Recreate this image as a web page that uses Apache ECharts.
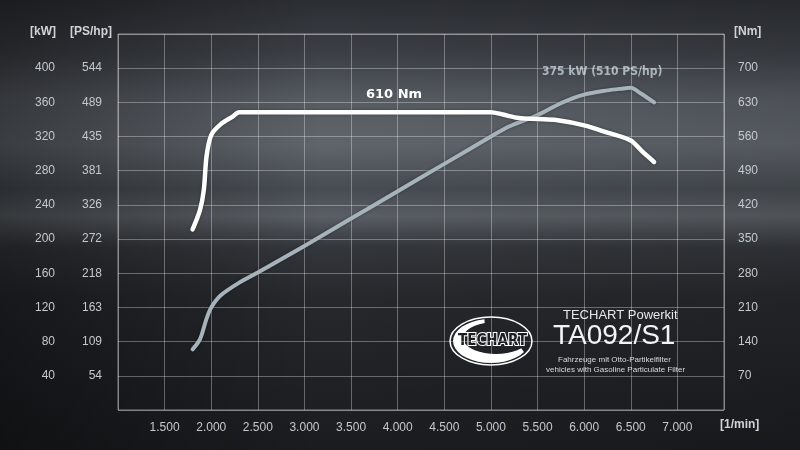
<!DOCTYPE html>
<html>
<head>
<meta charset="utf-8">
<script src="https://cdn.jsdelivr.net/npm/echarts@6/dist/echarts.min.js"></script>
<style>
  html, body { margin: 0; padding: 0; background: #222; }
  #chart { width: 800px; height: 450px; }
</style>
</head>
<body>
<div id="chart"></div>
<script>
// engine speed values (1/min)
const torqueRpm = [1800, 1880, 1920, 1950, 2000, 2100, 2230, 2300, 2500, 3000, 3500, 4000, 4500, 5000, 5130, 5300, 5500, 5700, 6000, 6250, 6500, 6620, 6750]
const torqueNm = [370, 410, 450, 520, 563, 585, 601, 610, 610, 610, 610, 610, 610, 610, 605, 598, 596, 594, 583, 568, 552, 530, 508]

const powerRpm = [1800, 1880, 1950, 2000, 2100, 2300, 2500, 3000, 3500, 4000, 4500, 5000, 5200, 5500, 5750, 6000, 6250, 6400, 6500, 6600, 6750]
const powerKw = [71, 83, 107, 120, 134, 149, 161, 192, 224, 256, 288, 320, 332, 345, 359, 369, 374, 376, 377, 371, 360]

// tick labels for the PS/hp column (kW ticks 40 .. 400)
const psTicks = ['54', '109', '163', '218', '272', '326', '381', '435', '489', '544']

const labelColor = '#c4c9ce'
const gridColor = 'rgba(255,255,255,0.32)'
const font = 'Liberation Sans'

const myChart = echarts.init(document.getElementById('chart'))

// logo crescent, drawn as a closed polygon
const crescent = []
for (let a = 100; a <= 330; a += 10) {
  const t = a * Math.PI / 180
  crescent.push([491 + 38 * Math.cos(t), 341 - 22 * Math.sin(t)])
}
for (let a = 320; a >= 110; a -= 10) {
  const t = a * Math.PI / 180
  crescent.push([496 + 33 * Math.cos(t), 338 - 16 * Math.sin(t)])
}

myChart.setOption({
  backgroundColor: '#26292d',
  animation: false,
  grid: {
    left: 118,
    right: 76,
    top: 34,
    bottom: 40,
    show: true,
    borderColor: 'rgba(255,255,255,0.45)',
    borderWidth: 1
  },
  graphic: [
    {
      type: 'rect', z: -20, silent: true,
      shape: { x: 0, y: 0, width: 800, height: 450 },
      style: {
        fill: new echarts.graphic.LinearGradient(0, 0, 0, 1, [
          { offset: 0, color: '#2b2e33' },
          { offset: 0.12, color: '#3c4046' },
          { offset: 0.22, color: '#575c63' },
          { offset: 0.32, color: '#60656c' },
          { offset: 0.42, color: '#474c52' },
          { offset: 0.48, color: '#5a5f65' },
          { offset: 0.55, color: '#33363b' },
          { offset: 0.66, color: '#26282c' },
          { offset: 0.82, color: '#202226' },
          { offset: 1, color: '#1b1c1f' }
        ])
      }
    },
    {
      type: 'rect', z: -19, silent: true,
      shape: { x: 0, y: 0, width: 800, height: 450 },
      style: {
        fill: new echarts.graphic.LinearGradient(0, 0, 1, 0, [
          { offset: 0, color: 'rgba(0,0,0,0.4)' },
          { offset: 0.4, color: 'rgba(0,0,0,0)' },
          { offset: 1, color: 'rgba(0,0,0,0.12)' }
        ])
      }
    },
    // axis titles
    { type: 'text', x: 30, y: 26, style: { text: '[kW]', fill: '#d0d4d8', font: 'bold 12px "Liberation Sans"' } },
    { type: 'text', x: 70, y: 26, style: { text: '[PS/hp]', fill: '#d0d4d8', font: 'bold 12px "Liberation Sans"' } },
    { type: 'text', x: 734, y: 26, style: { text: '[Nm]', fill: '#d0d4d8', font: 'bold 12px "Liberation Sans"' } },
    { type: 'text', x: 720, y: 419, style: { text: '[1/min]', fill: '#d0d4d8', font: 'bold 12px "Liberation Sans"' } },
    // curve labels
    { type: 'text', x: 366, y: 88, style: { text: '610 Nm', fill: '#ffffff', font: 'bold 13px "DejaVu Sans"' } },
    { type: 'text', x: 542, y: 66, style: { text: '375 kW (510 PS/hp)', fill: '#a9b5bc', font: 'bold 12px "DejaVu Sans Condensed"' } },
    // logo
    {
      type: 'ellipse', silent: true,
      shape: { cx: 491, cy: 341, rx: 41, ry: 24 },
      style: { fill: 'rgba(0,0,0,0)', stroke: '#ffffff', lineWidth: 1.5 }
    },
    {
      type: 'polygon', silent: true,
      shape: { points: crescent },
      style: { fill: '#ffffff' }
    },
    {
      type: 'text', x: 458, y: 334,
      style: { text: 'TECHART', fill: '#1c1d20', stroke: '#ffffff', lineWidth: 2, font: 'bold 15px "DejaVu Sans Condensed"' }
    },
    { type: 'text', x: 563, y: 309, style: { text: 'TECHART Powerkit', fill: '#e6e8ea', font: '13px "Liberation Sans"' } },
    { type: 'text', x: 553, y: 322, style: { text: 'TA092/S1', fill: '#f2f3f4', font: '28px "Liberation Sans"' } },
    { type: 'text', x: 558, y: 356, style: { text: 'Fahrzeuge mit Otto-Partikelfilter', fill: '#d8dbde', font: '8px "Liberation Sans"' } },
    { type: 'text', x: 546, y: 366, style: { text: 'vehicles with Gasoline Particulate Filter', fill: '#d8dbde', font: '8px "Liberation Sans"' } }
  ],
  xAxis: {
    type: 'value',
    min: 1000,
    max: 7500,
    interval: 500,
    axisLine: { show: false },
    axisTick: { show: false },
    splitLine: { show: true, lineStyle: { color: gridColor, width: 1 } },
    axisLabel: {
      color: labelColor,
      fontFamily: font,
      fontSize: 12,
      margin: 12,
      showMinLabel: false,
      showMaxLabel: false,
      formatter: v => (v / 1000).toFixed(3)
    }
  },
  yAxis: [
    {
      type: 'value', position: 'left', offset: 55,
      min: 0, max: 440, interval: 40,
      axisLine: { show: false }, axisTick: { show: false },
      splitLine: { show: true, lineStyle: { color: gridColor, width: 1 } },
      axisLabel: {
        color: labelColor, fontFamily: font, fontSize: 12, margin: 8,
        showMinLabel: false, showMaxLabel: false
      }
    },
    {
      type: 'value', position: 'left', offset: 0,
      min: 0, max: 440, interval: 40,
      axisLine: { show: false }, axisTick: { show: false },
      splitLine: { show: false },
      axisLabel: {
        color: labelColor, fontFamily: font, fontSize: 12, margin: 16,
        showMinLabel: false, showMaxLabel: false,
        formatter: v => psTicks[v / 40 - 1] || ''
      }
    },
    {
      type: 'value', position: 'right',
      min: 0, max: 770, interval: 70,
      axisLine: { show: false }, axisTick: { show: false },
      splitLine: { show: false },
      axisLabel: {
        color: labelColor, fontFamily: font, fontSize: 12, margin: 14,
        showMinLabel: false, showMaxLabel: false
      }
    }
  ],
  series: [
    {
      name: 'Leistung',
      type: 'line',
      yAxisIndex: 0,
      smooth: 0.3,
      symbol: 'none',
      data: powerRpm.map((r, i) => [r, powerKw[i]]),
      lineStyle: { color: '#a7b3ba', width: 4, cap: 'round', join: 'round', shadowColor: 'rgba(0,0,0,0.35)', shadowBlur: 3 },
      z: 3
    },
    {
      name: 'Drehmoment',
      type: 'line',
      yAxisIndex: 2,
      smooth: 0.3,
      symbol: 'none',
      data: torqueRpm.map((r, i) => [r, torqueNm[i]]),
      lineStyle: { color: '#ffffff', width: 4.5, cap: 'round', join: 'round', shadowColor: 'rgba(0,0,0,0.35)', shadowBlur: 3 },
      z: 4
    }
  ]
})
</script>
</body>
</html>
